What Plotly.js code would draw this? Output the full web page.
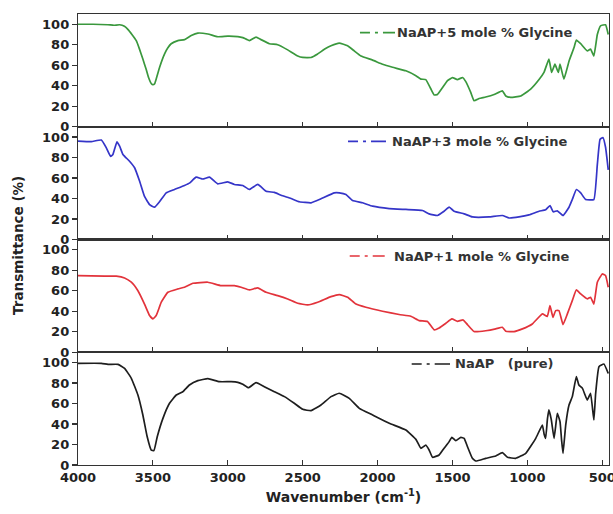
<!DOCTYPE html>
<html>
<head>
<meta charset="utf-8">
<script src="https://cdn.plot.ly/plotly-3.0.1.min.js"></script>
<style>html,body{margin:0;padding:0;background:#fff;}#chart{width:613px;height:514px;}</style>
</head>
<body>
<div id="chart"></div>
<script>
// ---- Data (wavenumber cm^-1, transmittance %) ----
const seriesNames = ["NaAP+5 mole % Glycine", "NaAP+3 mole % Glycine", "NaAP+1 mole % Glycine", "NaAP\u00a0\u00a0\u00a0(pure)"];

const wnGly5 = [4000,3900,3800,3760,3722,3690,3667,3640,3611,3590,3567,3545,3529,3510,3500,3488,3475,3455,3422,3400,3378,3333,3289,3244,3200,3133,3067,3000,2933,2900,2856,2811,2778,2722,2667,2600,2533,2500,2444,2400,2350,2311,2256,2200,2156,2111,2033,1967,1900,1811,1744,1711,1678,1644,1622,1600,1567,1533,1500,1467,1433,1411,1378,1356,1322,1278,1222,1167,1144,1111,1044,978,922,889,856,838,816,793,782,756,722,689,673,644,600,578,556,533,511,478,460];
const tGly5 = [100,100,99.5,99,99.5,98,95,90,84,76,66,56,48,42,41,42,48,58,71,77,81,84,85,89,91.4,90.5,87.8,88.4,88,87,84,87.5,85,81,80,75,69,67.6,67.6,71,76,79,81.6,79,74,69,65,61,58,54.6,49.8,46.5,46,36.8,31,31.5,38,45,48,46,48,44,33.5,25.4,27.5,29,31.5,35,30,28.6,30,36.7,46,53,66,53,61,53,61,46.5,64,77,84.6,81,74,75.8,69,90,98.5,99.5,90];

const wnGly3 = [4000,3911,3844,3811,3782,3767,3740,3722,3700,3656,3622,3589,3556,3522,3489,3456,3411,3356,3289,3256,3211,3167,3122,3067,3000,2956,2900,2856,2800,2744,2689,2644,2578,2522,2444,2378,2289,2256,2211,2167,2100,2033,1922,1811,1700,1656,1600,1556,1522,1489,1422,1367,1256,1167,1122,1056,989,922,878,849,827,800,762,722,700,673,644,611,556,533,515,496,478,460];
const tGly3 = [96,95.5,97,89.4,81,83,95.3,91,83,76.4,70,57,42,34,31.5,36.8,45.5,48.8,52.7,55,60.8,59,60.8,54.3,56.3,53.7,52.7,48.8,53.7,47,46,43.2,40,36.8,35.8,39.7,45.5,45.5,43.9,38,35.8,32.5,30.2,29.3,28.3,25,23.4,27.6,31.5,27.6,25,22,22,23.4,21,22,24,27.6,29,33,27,28,23.4,31.5,39,48.8,45.5,39,39,73,97.6,99.5,90,68];

const wnGly1 = [4000,3822,3744,3689,3644,3600,3556,3522,3500,3478,3444,3400,3333,3289,3233,3133,3044,2956,2911,2856,2800,2744,2667,2600,2533,2467,2400,2311,2256,2200,2144,2078,1967,1856,1778,1722,1667,1622,1589,1544,1504,1467,1429,1400,1356,1278,1211,1167,1144,1089,1033,967,900,867,849,829,811,789,762,733,700,673,644,600,578,556,533,500,478,460];
const tGly1 = [74.8,74.2,74.2,72.5,68.3,60,47,35.8,32.5,35.8,48.8,58.5,61.8,63.4,67.3,68.3,65,65,63.4,60.8,62.8,58.5,55.3,52,47.8,46.2,48.8,54.3,56.3,53.7,47,43.9,40,36.8,35.1,30.9,30,21.8,23.7,28.3,32.5,30.2,31.5,27,20.2,21,22.8,24.4,20.5,20.2,22.8,27.6,37.4,35,45.5,34,40.6,40.6,27,37.4,50.4,60.8,56.9,52,53.7,47,68.3,76.4,74.8,63.4];

const wnPure = [4000,3844,3800,3733,3689,3644,3600,3567,3538,3511,3493,3471,3433,3389,3344,3300,3256,3200,3133,3056,2978,2933,2900,2862,2811,2756,2689,2622,2556,2500,2444,2378,2311,2256,2189,2122,2033,1922,1811,1744,1711,1678,1656,1633,1589,1556,1522,1504,1478,1444,1422,1400,1367,1344,1278,1211,1167,1133,1078,1011,944,900,888,878,866,856,840,822,811,800,782,772,762,744,722,700,673,656,633,600,578,556,544,522,489,460];
const tPure = [99.2,99.2,98.2,98.2,94.3,84.6,68.3,48.8,27.6,14.6,14,27.6,45.5,60.2,68.3,71.5,78,82.3,84.2,81.3,81.3,80.6,78.7,75.4,80.3,76.4,71.5,66.7,60.2,54.3,53,58.5,66.7,70,65,55.3,48.8,40.7,34.1,25,16.3,19.5,14.6,7.5,9.8,16.3,22.8,27,23.7,27,26,17.9,6.5,3.9,6.5,8.8,12,7.5,6.5,11.4,26,39,30,26,45,53.7,44,26,38,50.4,42.3,25,11.4,39,58.5,66.7,86.2,78,75,63.4,70,43.9,70,95.9,98.5,89.3];

const xTicks = [4000,3500,3000,2500,2000,1500,1000,500];
const yTicks = [0,20,40,60,80,100];

// ---- Styling ----
const colors = ["#3a983d", "#3535c8", "#e2333b", "#1e1e1e"];
const FONT = "DejaVu Sans, Liberation Sans, Arial, sans-serif";
const axisColor = "#333";

const traces = [
  {x: wnGly5, y: tGly5, xaxis: "x4", yaxis: "y4"},
  {x: wnGly3, y: tGly3, xaxis: "x3", yaxis: "y3"},
  {x: wnGly1, y: tGly1, xaxis: "x2", yaxis: "y2"},
  {x: wnPure, y: tPure, xaxis: "x", yaxis: "y"}
].map((t, i) => Object.assign(t, {
  type: "scatter", mode: "lines", name: seriesNames[i], showlegend: false,
  line: {color: colors[i], width: 1.7, shape: "spline", smoothing: 0.35}
}));

function xAxis(anchor, labels) {
  return {
    anchor: anchor, range: [4000, 455], tickvals: xTicks, ticktext: xTicks.map(String),
    showticklabels: labels, ticks: "inside", ticklen: 5, tickwidth: 1.2, tickcolor: axisColor,
    showline: true, mirror: true, linecolor: axisColor, linewidth: 1.2,
    showgrid: false, zeroline: false, ticklabeloverflow: "allow",
    tickfont: {family: FONT, size: 13, color: "#222", weight: "bold"}
  };
}
function yAxis(dom) {
  return {
    domain: dom, range: [0, 110], tickvals: yTicks, ticks: "outside", ticklen: 5, tickwidth: 1.2,
    tickcolor: axisColor, showline: true, mirror: true, linecolor: axisColor, linewidth: 1.2,
    showgrid: false, zeroline: false, anchor: "x",
    tickfont: {family: FONT, size: 13, color: "#222", weight: "bold"}
  };
}

const xa = xAxis("y", true);
xa.title = {text: "Wavenumber (cm<sup>-1</sup>)", font: {family: FONT, size: 14, color: "#222", weight: "bold"}, standoff: 8};

const legendPos = [
  {tx: 0.597, ty: 0.9585, lx0: 0.531, lx1: 0.597},
  {tx: 0.5876, ty: 0.7177, lx0: 0.5085, lx1: 0.580},
  {tx: 0.5908, ty: 0.4634, lx0: 0.5117, lx1: 0.5776},
  {tx: 0.706, ty: 0.224, lx0: 0.6284, lx1: 0.7006}
];

const annotations = legendPos.map((p, i) => ({
  xref: "paper", yref: "paper", x: p.tx, y: p.ty, xanchor: "left", yanchor: "middle",
  text: seriesNames[i], showarrow: false,
  font: {family: FONT, size: 13, color: "#333", weight: "bold"}
}));
annotations.push({
  xref: "paper", yref: "paper", x: -0.113, y: 0.488, xanchor: "center", yanchor: "middle",
  text: "Transmittance (%)", textangle: -90, showarrow: false,
  font: {family: FONT, size: 13.5, color: "#222", weight: "bold"}
});

const shapes = legendPos.map((p, i) => ({
  type: "line", xref: "paper", yref: "paper", x0: p.lx0, x1: p.lx1, y0: p.ty, y1: p.ty,
  line: {color: colors[i], width: 1.7, dash: "10px,5px,3px,5px,30px"}
}));

const x2 = xAxis("y2", false), x3 = xAxis("y3", false), x4 = xAxis("y4", false);
x2.matches = "x"; x3.matches = "x"; x4.matches = "x";
const y2 = yAxis([0.25, 0.5]); y2.anchor = "x2";
const y3 = yAxis([0.5, 0.75]); y3.anchor = "x3";
const y4 = yAxis([0.75, 1.0]); y4.anchor = "x4";

const layout = {
  width: 613, height: 514,
  margin: {l: 78, r: 4, t: 14, b: 49},
  paper_bgcolor: "#fff", plot_bgcolor: "#fff",
  showlegend: false,
  xaxis: xa, xaxis2: x2, xaxis3: x3, xaxis4: x4,
  yaxis: yAxis([0, 0.25]), yaxis2: y2, yaxis3: y3, yaxis4: y4,
  annotations: annotations, shapes: shapes
};

Plotly.newPlot("chart", traces, layout, {displayModeBar: false, staticPlot: true});
</script>
</body>
</html>
